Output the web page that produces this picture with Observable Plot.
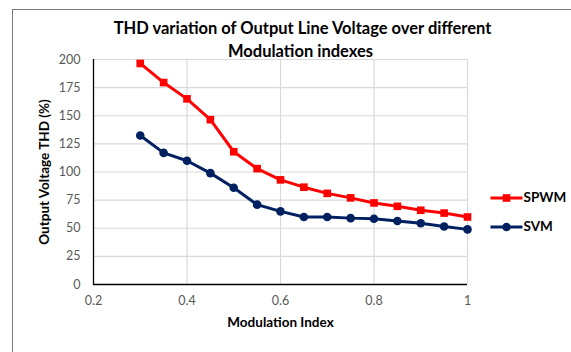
<!DOCTYPE html>
<html><head><meta charset="utf-8">
<script src="https://cdn.jsdelivr.net/npm/d3@7"></script>
<script src="https://cdn.jsdelivr.net/npm/@observablehq/plot@0.6"></script>
<style>
body{margin:0;background:#fff;}
#wrap{position:relative;width:571px;height:352px;overflow:hidden;font-family:Lato,"Open Sans",sans-serif;}
#frame{position:absolute;left:12px;top:9px;width:620px;height:420px;border:1.5px solid #7a7a7a;}
#chart{position:absolute;left:0;top:0;}
</style>
</head><body>
<div id="wrap"><div id="frame"></div><div id="chart"></div></div>
<script>
const modIndex = [0.3,0.35,0.4,0.45,0.5,0.55,0.6,0.65,0.7,0.75,0.8,0.85,0.9,0.95,1.0];
const spwm = [196.5,179.5,165,146.5,118,103,93,86.5,81,77,72.5,69.5,66,63.5,60];
const svm  = [132.5,117,110,99,86,71,65,60,60,59,58.5,56.5,54.5,51.5,49];
const seriesNames = ["SPWM","SVM"];
const seriesColors = ["#ff0000","#002060"];
const seriesSymbols = ["square","circle"];
const yTicks = [0,25,50,75,100,125,150,175,200];
const xTicks = [0.2,0.4,0.6,0.8,1];
const titleLines = ["THD variation of Output Line Voltage over different","Modulation indexes"];
const xLabel = "Modulation Index";
const yLabel = "Output Voltage THD (%)";

const rows = modIndex.flatMap((m,i)=>[
  {m, v: spwm[i], s: "SPWM"},
  {m, v: svm[i], s: "SVM"}
]);

const hline = {draw(ctx){ ctx.moveTo(-16,0); ctx.lineTo(16,0); }};

const chart = Plot.plot({
  width: 571, height: 352,
  marginLeft: 93, marginRight: 104, marginTop: 59, marginBottom: 68,
  style: {fontFamily: "Lato, 'Open Sans', sans-serif", background: "transparent"},
  x: {domain: [0.2, 1], ticks: xTicks},
  y: {domain: [0, 200], ticks: yTicks},
  color: {domain: seriesNames, range: seriesColors},
  symbol: {domain: seriesNames, range: seriesSymbols},
  marks: [
    Plot.gridY(yTicks, {stroke: "#d9d9d9", strokeOpacity: 1, strokeWidth: 1.2}),
    Plot.gridX(xTicks.slice(1), {stroke: "#d9d9d9", strokeOpacity: 1, strokeWidth: 1.2}),
    Plot.ruleX([0.2], {stroke: "#000", strokeWidth: 1.3}),
    Plot.ruleY([0], {stroke: "#000", strokeWidth: 1.3}),
    Plot.axisY(yTicks, {tickSize: 0, tickPadding: 13, fontSize: 12.5, fill: "#595959", label: null}),
    Plot.axisX(xTicks, {tickSize: 0, tickPadding: 12, fontSize: 12.5, fill: "#595959", label: null, tickFormat: d => String(d)}),
    Plot.line(rows, {x: "m", y: "v", z: "s", stroke: "s", strokeWidth: 3}),
    Plot.dot(rows, {x: "m", y: "v", symbol: "s", fill: "s", r: 4.3, stroke: null}),
    Plot.text(titleLines, {text: d => d, frameAnchor: "top", dx: 22, dy: -37, filter: (d,i) => i === 0, fontSize: 16.5, fontWeight: "bold", fill: "#000"}),
    Plot.text(titleLines, {text: d => d, frameAnchor: "top", dx: 20, dy: -14, filter: (d,i) => i === 1, fontSize: 16.5, fontWeight: "bold", fill: "#000"}),
    Plot.text([xLabel], {text: d => d, frameAnchor: "bottom", dy: 42, fontSize: 13.5, fontWeight: "bold", fill: "#000"}),
    Plot.text([yLabel], {text: d => d, frameAnchor: "left", textAnchor: "middle", dx: -49, rotate: -90, fontSize: 13.5, fontWeight: "bold", fill: "#000"}),
    ...seriesNames.flatMap((s,i) => [
      Plot.dot([s], {frameAnchor: "right", dx: 39, dy: 26 + i*29, symbol: () => hline, r: 5, stroke: seriesColors[i], strokeWidth: 3, fill: "none"}),
      Plot.dot([s], {frameAnchor: "right", dx: 39, dy: 26 + i*29, symbol: seriesSymbols[i], r: 4.3, fill: seriesColors[i], stroke: null}),
      Plot.text([s], {text: d => d, frameAnchor: "right", dx: 56, dy: 26 + i*29, textAnchor: "start", fontSize: 13.5, fontWeight: "bold", fill: "#000"})
    ])
  ]
});
document.getElementById("chart").appendChild(chart);
</script>
</body></html>
